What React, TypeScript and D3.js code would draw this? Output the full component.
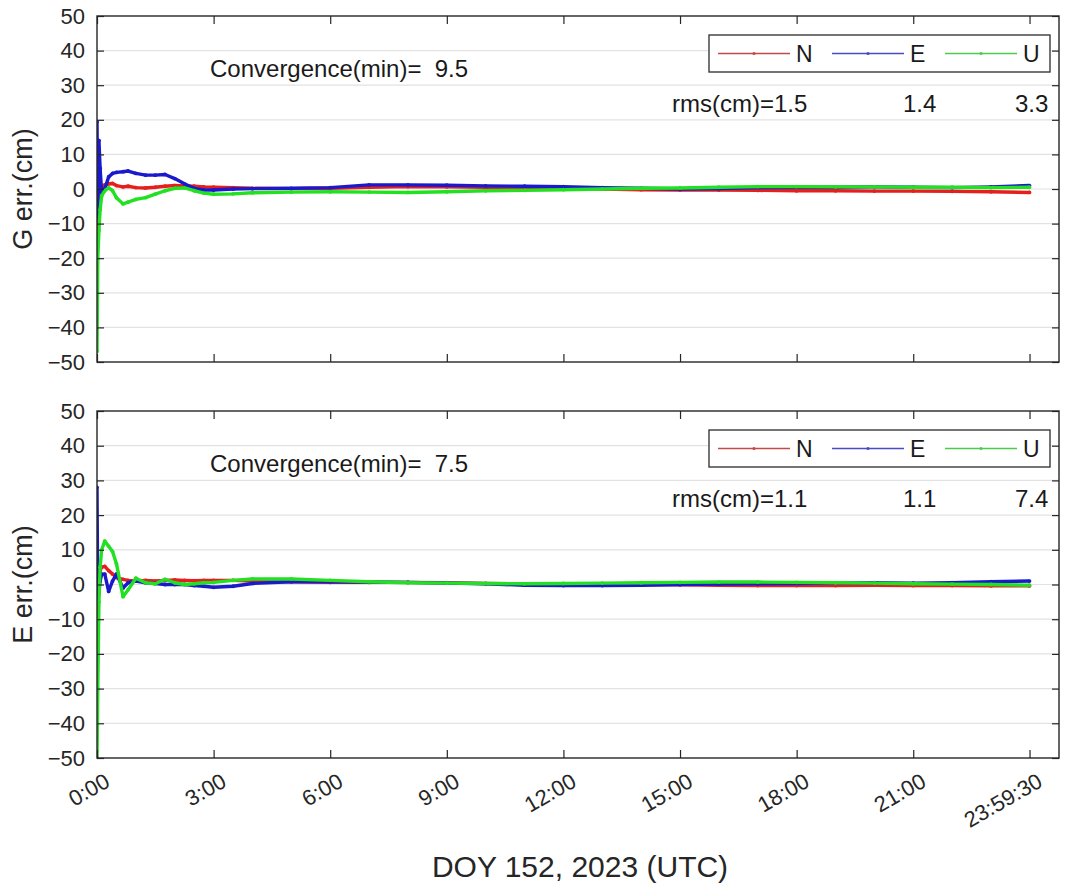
import React, { useRef, useEffect } from "react";
import * as d3 from "d3";

// time of day in hours (epochs)
const hours = [
  0, 0.02, 0.05, 0.08, 0.12, 0.2, 0.3, 0.4, 0.5, 0.67, 0.8, 1.0, 1.25, 1.5,
  1.75, 2.0, 2.25, 2.5, 2.75, 3.0, 3.5, 4, 5, 6, 7, 8, 9, 10, 11, 12, 13, 14,
  15, 16, 17, 18, 19, 20, 21, 22, 23, 23.99,
];

// G panel (cm)
const gN = [
  -15, -2, -3, -1, 0.5, 1.2, 1.5, 1.6, 1.0, 0.6, 0.8, 0.4, 0.3, 0.5, 0.8, 1.0,
  0.9, 0.8, 0.6, 0.5, 0.4, 0.2, 0.1, 0.2, 0.5, 0.7, 0.6, 0.5, 0.5, 0.3, 0,
  -0.2, -0.3, -0.3, -0.4, -0.5, -0.5, -0.6, -0.6, -0.7, -0.8, -1.0,
];
const gE = [
  19.5, -8, 14, 6, -1, 0, 3.5, 4.5, 4.8, 5, 5.2, 4.5, 4, 4, 4.2, 3, 1.5, 0.2,
  -0.3, -0.3, 0, 0.1, 0.2, 0.4, 1.2, 1.2, 1.1, 0.9, 0.8, 0.7, 0.4, 0.2, 0, 0.1,
  0.4, 0.5, 0.5, 0.6, 0.5, 0.4, 0.6, 1.0,
];
const gU = [
  -47, -20, -12, -6, -2, -0.5, 0.3, -0.5, -2.5, -4.3, -3.8, -3, -2.5, -1.5,
  -0.5, 0.2, 0.3, -0.5, -1.2, -1.5, -1.4, -1.1, -0.9, -0.8, -0.9, -1.0, -0.8,
  -0.5, -0.4, -0.2, 0, 0.2, 0.3, 0.5, 0.7, 0.7, 0.6, 0.6, 0.5, 0.5, 0.4, 0.5,
];

// E panel (cm)
const eN = [
  -19, -5, 2, 4, 5, 5.2, 4, 3, 2, 1.5, 1.2, 1.0, 1.2, 1.0, 1.2, 1.3, 1.2, 1.1,
  1.2, 1.2, 1.2, 1.0, 0.8, 0.6, 0.6, 0.6, 0.5, 0.3, 0.2, 0.1, 0, 0, -0.1, -0.2,
  -0.3, -0.3, -0.3, -0.2, -0.3, -0.3, -0.4, -0.4,
];
const eE = [
  28, -5, -2, 1, 3, 3, -2, 1, 3, -1, 0.5, 1.0, 0.5, 0.3, 0, 0, 0, -0.3, -0.5,
  -0.8, -0.5, 0.3, 0.8, 0.8, 0.7, 0.6, 0.4, 0.2, -0.2, -0.3, -0.3, -0.2, 0,
  0.1, 0.2, 0.3, 0.4, 0.5, 0.4, 0.5, 0.8, 1.0,
];
const eU = [
  -50, -30, -5, 5, 10, 12.5, 11, 9.5, 6, -3.5, -1.5, 1.8, 0.5, 0.2, 1.5, 0.5, 0,
  0.2, 0.5, 0.6, 1.2, 1.6, 1.6, 1.2, 0.8, 0.5, 0.4, 0.3, 0.2, 0.3, 0.4, 0.5,
  0.6, 0.7, 0.7, 0.6, 0.5, 0.4, 0.2, 0.1, 0, -0.2,
];

const yTicks = [50, 40, 30, 20, 10, 0, -10, -20, -30, -40, -50];
const xTickHours = [0, 3, 6, 9, 12, 15, 18, 21, 23.9917];
const xTickLabels = [
  "0:00", "3:00", "6:00", "9:00", "12:00", "15:00", "18:00", "21:00", "23:59:30",
];
const seriesNames = ["N", "E", "U"];
const seriesColors = ["#e61e1e", "#1a1acc", "#22e022"];
const legendColors = ["#c44a4a", "#4a4ac4", "#4ccc4c"];
const panelLabels = ["G err.(cm)", "E err.(cm)"];
const convergence = ["9.5", "7.5"];
const rmsG = ["1.5", "1.4", "3.3"];
const rmsE = ["1.1", "1.1", "7.4"];

const App = () => {
  const ref = useRef(null);

  useEffect(() => {
    document.body.style.margin = "0";
    const font = "'Liberation Sans', Arial, sans-serif";
    const ink = "#262626";
    const svg = d3
      .select(ref.current)
      .append("svg")
      .attr("width", 1065)
      .attr("height", 890)
      .style("display", "block")
      .style("background", "white")
      .attr("font-family", font);

    const left = 97;
    const right = 1059;
    const x = d3.scaleLinear().domain([0, 24.75]).range([left, right]);

    const panels = [
      { label: panelLabels[0], series: [gN, gE, gU], conv: convergence[0], rms: rmsG, top: 16, bottom: 362 },
      { label: panelLabels[1], series: [eN, eE, eU], conv: convergence[1], rms: rmsE, top: 411, bottom: 758 },
    ];

    panels.forEach((p, pi) => {
      const y = d3.scaleLinear().domain([-50, 50]).range([p.bottom, p.top]);
      const g = svg.append("g");

      // grid
      g.selectAll(".grid")
        .data(yTicks.filter((v) => v > -50 && v < 50))
        .enter()
        .append("line")
        .attr("x1", left)
        .attr("x2", right)
        .attr("y1", (d) => y(d))
        .attr("y2", (d) => y(d))
        .attr("stroke", "#e2e2e2")
        .attr("stroke-width", 1.2);

      // clip
      const clipId = "clip" + pi;
      svg
        .append("clipPath")
        .attr("id", clipId)
        .append("rect")
        .attr("x", left)
        .attr("y", p.top)
        .attr("width", right - left)
        .attr("height", p.bottom - p.top);

      const line = d3
        .line()
        .x((d) => x(d[0]))
        .y((d) => y(d[1]));

      const lg = g.append("g").attr("clip-path", `url(#${clipId})`);
      p.series.forEach((vals, si) => {
        const pts = hours.map((h, i) => [h, vals[i]]);
        lg.append("path")
          .attr("d", line(pts))
          .attr("fill", "none")
          .attr("stroke", seriesColors[si])
          .attr("stroke-width", 3.4)
          .attr("stroke-linejoin", "round");
        lg.selectAll(".dot" + si)
          .data(pts)
          .enter()
          .append("circle")
          .attr("cx", (d) => x(d[0]))
          .attr("cy", (d) => y(d[1]))
          .attr("r", 1.9)
          .attr("fill", seriesColors[si]);
      });

      // axes (ticks inward)
      const yAxis = g
        .append("g")
        .attr("transform", `translate(${left},0)`)
        .call(d3.axisLeft(y).tickValues(yTicks).tickSize(-7).tickSizeOuter(0).tickPadding(12));
      yAxis.select(".domain").remove();
      yAxis.selectAll("line").attr("stroke", ink).attr("stroke-width", 1.2);
      yAxis.selectAll("text").attr("font-size", 22).attr("fill", ink).attr("font-family", font);

      const yAxisR = g
        .append("g")
        .attr("transform", `translate(${right},0)`)
        .call(d3.axisRight(y).tickValues(yTicks).tickSize(-7).tickSizeOuter(0).tickFormat(() => ""));
      yAxisR.select(".domain").remove();
      yAxisR.selectAll("line").attr("stroke", ink).attr("stroke-width", 1.2);

      const xAxisT = g
        .append("g")
        .attr("transform", `translate(0,${p.top})`)
        .call(d3.axisTop(x).tickValues(xTickHours).tickSize(-8).tickSizeOuter(0).tickFormat(() => ""));
      xAxisT.select(".domain").remove();
      xAxisT.selectAll("line").attr("stroke", ink).attr("stroke-width", 1.2);

      const xAxisB = g
        .append("g")
        .attr("transform", `translate(0,${p.bottom})`)
        .call(
          d3
            .axisBottom(x)
            .tickValues(xTickHours)
            .tickSize(-8)
            .tickSizeOuter(0)
            .tickFormat((d, i) => (pi === 1 ? xTickLabels[i] : ""))
        );
      xAxisB.select(".domain").remove();
      xAxisB.selectAll("line").attr("stroke", ink).attr("stroke-width", 1.2);
      xAxisB
        .selectAll("text")
        .attr("font-size", 22)
        .attr("fill", ink)
        .attr("font-family", font)
        .attr("text-anchor", "end")
        .attr("x", 0)
        .attr("y", 0)
        .attr("dy", "0.71em")
        .attr("transform", "translate(6,14) rotate(-30)");

      // box
      g.append("rect")
        .attr("x", left)
        .attr("y", p.top)
        .attr("width", right - left)
        .attr("height", p.bottom - p.top)
        .attr("fill", "none")
        .attr("stroke", ink)
        .attr("stroke-width", 1.4);

      // y label
      g.append("text")
        .attr("transform", `translate(32,${y(0)}) rotate(-90)`)
        .attr("text-anchor", "middle")
        .attr("font-size", 27)
        .attr("fill", ink)
        .text(p.label);

      // annotations
      g.append("text")
        .attr("x", 210)
        .attr("y", p.top + 61)
        .attr("font-size", 24)
        .attr("fill", "#1a1a1a")
        .attr("xml:space", "preserve")
        .style("white-space", "pre")
        .text("Convergence(min)=  " + p.conv);

      const rmsX = [672, 903, 1015];
      p.rms.forEach((r, ri) => {
        g.append("text")
          .attr("x", rmsX[ri])
          .attr("y", p.top + 96)
          .attr("font-size", 24)
          .attr("fill", "#1a1a1a")
          .text(ri === 0 ? "rms(cm)=" + r : r);
      });

      // legend
      const ly = p.top + 19;
      g.append("rect")
        .attr("x", 709)
        .attr("y", ly)
        .attr("width", 341)
        .attr("height", 37)
        .attr("fill", "white")
        .attr("stroke", "#3a3a3a")
        .attr("stroke-width", 1.4);
      const lx = [718, 832, 945];
      seriesNames.forEach((n, si) => {
        const cy = ly + 18.5;
        g.append("line")
          .attr("x1", lx[si])
          .attr("x2", lx[si] + 72)
          .attr("y1", cy)
          .attr("y2", cy)
          .attr("stroke", legendColors[si])
          .attr("stroke-width", 1.3);
        g.append("circle")
          .attr("cx", lx[si] + 36)
          .attr("cy", cy)
          .attr("r", 1.6)
          .attr("fill", legendColors[si]);
        g.append("text")
          .attr("x", lx[si] + 78)
          .attr("y", cy + 8)
          .attr("font-size", 23)
          .attr("fill", "#1a1a1a")
          .text(n);
      });
    });

    svg
      .append("text")
      .attr("x", 580)
      .attr("y", 877)
      .attr("text-anchor", "middle")
      .attr("font-size", 30)
      .attr("fill", ink)
      .text("DOY 152, 2023 (UTC)");

    return () => {
      svg.remove();
    };
  }, []);

  return <div ref={ref}></div>;
};

export default App;
